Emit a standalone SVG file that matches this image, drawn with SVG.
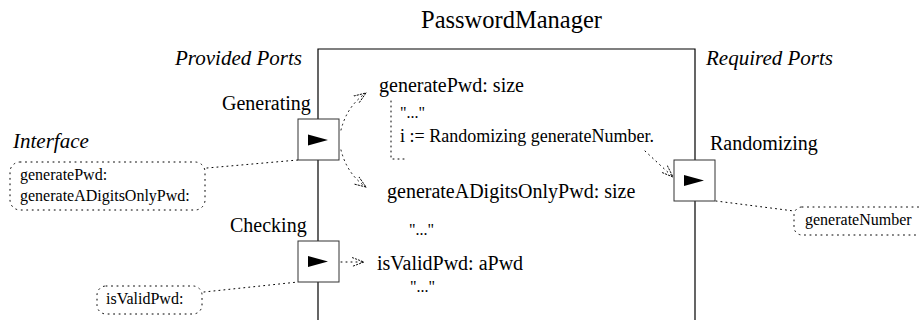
<svg xmlns="http://www.w3.org/2000/svg" width="919" height="320" viewBox="0 0 919 320">
<defs>
<marker id="open" viewBox="0 0 12 10" refX="12" refY="5" markerWidth="12" markerHeight="10" markerUnits="userSpaceOnUse" orient="auto">
<path d="M0,0.5 L12,5 L0,9.5" fill="none" stroke="#000" stroke-width="0.9" stroke-dasharray="2.2 1"/>
</marker>
<polygon id="tri" points="-10,-5.5 10,0 -10,5.5" fill="#000"/>
</defs>

<g id="component">
<text x="421" y="28" font-family="Liberation Serif" font-size="24.5">PasswordManager</text>
<path d="M318,320 V49 H695 V320" fill="none" stroke="#000" stroke-width="1.2"/>
<text x="175" y="65" font-family="Liberation Serif" font-size="21" font-style="italic">Provided Ports</text>
<text x="706" y="65" font-family="Liberation Serif" font-size="21" font-style="italic">Required Ports</text>
</g>

<g id="connectors" fill="none" stroke="#000" stroke-width="1" stroke-dasharray="1 4" stroke-linecap="round">
<path d="M341,130 Q347,106 366,93" marker-end="url(#open)"/>
<path d="M341,150 Q347,174 366,187" marker-end="url(#open)"/>
<path d="M341,262 H364" marker-end="url(#open)"/>
<path d="M645,151 L673,177" marker-end="url(#open)"/>
<path d="M207,168 L298,160"/>
<path d="M204,292 L298,282"/>
<path d="M716,201 L794,211"/>
</g>

<g id="port-generating">
<text x="222" y="110" font-family="Liberation Serif" font-size="20">Generating</text>
<rect x="298" y="119" width="41" height="41" fill="#fff" stroke="#333"/>
<use href="#tri" x="318" y="140"/>
</g>

<g id="port-checking">
<text x="230" y="232" font-family="Liberation Serif" font-size="20">Checking</text>
<rect x="298" y="241" width="41" height="41" fill="#fff" stroke="#333"/>
<use href="#tri" x="318" y="261.5"/>
</g>

<g id="port-randomizing">
<text x="710" y="150" font-family="Liberation Serif" font-size="20">Randomizing</text>
<rect x="674" y="160" width="41" height="41" fill="#fff" stroke="#333"/>
<use href="#tri" x="694" y="180.5"/>
</g>

<g id="interface-generating">
<text x="13" y="148" font-family="Liberation Serif" font-size="21" font-style="italic">Interface</text>
<rect x="10" y="162" width="195" height="48" rx="10" fill="none" stroke="#000" stroke-dasharray="1 4.5" stroke-linecap="round"/>
<text x="20" y="180" font-family="Liberation Serif" font-size="16">generatePwd:</text>
<text x="20" y="201" font-family="Liberation Serif" font-size="16">generateADigitsOnlyPwd:</text>
</g>

<g id="interface-checking">
<rect x="97" y="286" width="105" height="28" rx="9" fill="none" stroke="#000" stroke-dasharray="1 4.5" stroke-linecap="round"/>
<text x="106" y="304" font-family="Liberation Serif" font-size="16">isValidPwd:</text>
</g>

<g id="interface-randomizing">
<rect x="794" y="207" width="200" height="28" rx="8" fill="none" stroke="#000" stroke-dasharray="1 4.5" stroke-linecap="round"/>
<text x="805" y="225" font-family="Liberation Serif" font-size="16">generateNumber</text>
</g>

<g id="method-generatePwd">
<text x="379" y="92" font-family="Liberation Serif" font-size="20">generatePwd: size</text>
<path d="M391,101 V159 H408" fill="none" stroke="#000" stroke-dasharray="1 4" stroke-linecap="round"/>
<text x="400" y="118" font-family="Liberation Serif" font-size="16">"..."</text>
<text x="400" y="142" font-family="Liberation Serif" font-size="18">i := Randomizing generateNumber.</text>
</g>

<g id="method-generateADigitsOnlyPwd">
<text x="387" y="198" font-family="Liberation Serif" font-size="20">generateADigitsOnlyPwd: size</text>
<text x="409" y="235" font-family="Liberation Serif" font-size="16">"..."</text>
</g>

<g id="method-isValidPwd">
<text x="377" y="270" font-family="Liberation Serif" font-size="20">isValidPwd: aPwd</text>
<text x="410" y="292" font-family="Liberation Serif" font-size="16">"..."</text>
</g>
</svg>
